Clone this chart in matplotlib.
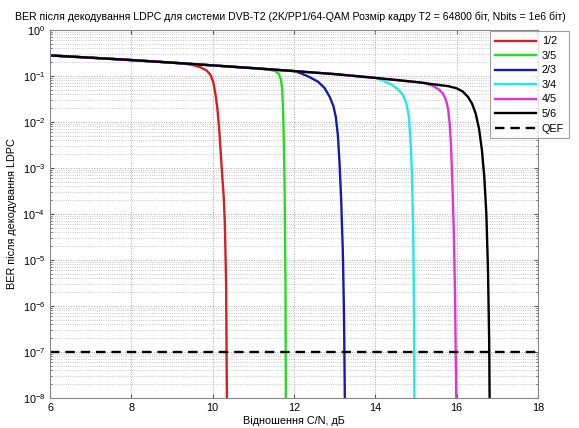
import numpy as np
import matplotlib
matplotlib.use("Agg")
import matplotlib.pyplot as plt
from matplotlib.ticker import FixedLocator, NullFormatter, LogFormatterSciNotation

plt.rcParams['font.family'] = ['Liberation Sans', 'DejaVu Sans']

# ---- data (C/N in dB, BER) ----
x_12 = [6, 7, 8, 9, 9.3, 9.5, 9.7, 9.85, 9.95, 10.02, 10.08, 10.12, 10.16, 10.19, 10.23, 10.27, 10.30, 10.33, 10.35]
y_12 = [0.28, 0.25, 0.222, 0.195, 0.186, 0.174, 0.155, 0.132, 0.105, 0.071, 0.035, 0.0178, 7.1e-3, 2.8e-3,
        7.9e-4, 2.5e-4, 6.3e-5, 3.2e-6, 1e-8]

x_35 = [6, 7, 8, 9, 10, 11, 11.4, 11.55, 11.63, 11.68, 11.71, 11.73, 11.75, 11.77, 11.79, 11.80]
y_35 = [0.28, 0.25, 0.222, 0.195, 0.17, 0.148, 0.138, 0.126, 0.11, 0.083, 0.05, 0.02, 4e-3, 3.2e-4, 3.2e-6, 1e-8]

x_23 = [6, 7, 8, 9, 10, 11, 12.0, 12.2, 12.4, 12.6, 12.75, 12.88, 12.97, 13.03, 13.08, 13.12, 13.16, 13.20,
        13.23, 13.25]
y_23 = [0.28, 0.25, 0.222, 0.195, 0.17, 0.148, 0.128, 0.112, 0.093, 0.074, 0.055, 0.035, 0.022, 0.0126, 5e-3,
        1.26e-3, 2e-4, 1.6e-5, 6.3e-7, 1e-8]

x_34 = [6, 7, 8, 9, 10, 11, 12, 13, 14.0, 14.2, 14.4, 14.55, 14.68, 14.76, 14.82, 14.86, 14.90, 14.93, 14.95, 14.96]
y_34 = [0.28, 0.25, 0.222, 0.195, 0.17, 0.148, 0.128, 0.11, 0.091, 0.079, 0.065, 0.052, 0.039, 0.026, 0.014,
        5e-3, 7.9e-4, 5e-5, 1e-6, 1e-8]

x_45 = [6, 7, 8, 9, 10, 11, 12, 13, 14, 15.2, 15.4, 15.55, 15.66, 15.74, 15.79, 15.83, 15.86, 15.89, 15.93,
        15.96, 15.99]
y_45 = [0.28, 0.25, 0.222, 0.195, 0.17, 0.148, 0.128, 0.11, 0.091, 0.071, 0.062, 0.052, 0.042, 0.030, 0.019,
        8.9e-3, 3.2e-3, 6.3e-4, 4e-5, 1.6e-6, 1e-8]

x_56 = [6, 7, 8, 9, 10, 11, 12, 13, 14, 15, 15.8, 16.0, 16.15, 16.28, 16.38, 16.47, 16.55, 16.62, 16.68, 16.73,
        16.77, 16.80, 16.81]
y_56 = [0.28, 0.25, 0.222, 0.195, 0.17, 0.148, 0.128, 0.11, 0.091, 0.074, 0.060, 0.054, 0.046, 0.035, 0.025,
        0.015, 7.1e-3, 2.5e-3, 6.3e-4, 1e-4, 6.3e-6, 1.6e-7, 1e-8]

qef_x = [6, 18]
qef_y = [1e-7, 1e-7]

labels = ['1/2', '3/5', '2/3', '3/4', '4/5', '5/6', 'QEF']
colors = ['#d42020', '#22dd22', '#1a1aa8', '#22e8e8', '#dd33dd', '#000000']

x_ticks = [6, 8, 10, 12, 14, 16, 18]
y_ticks = [1e-8, 1e-7, 1e-6, 1e-5, 1e-4, 1e-3, 1e-2, 1e-1, 1e0]

fig = plt.figure(figsize=(5.79, 4.28), dpi=100)
ax = fig.add_axes([50/579, 1-398/428, 488/579, 368/428])

series = [(x_12, y_12), (x_35, y_35), (x_23, y_23), (x_34, y_34), (x_45, y_45), (x_56, y_56)]
for (xs, ys), c, lab in zip(series, colors, labels):
    ax.semilogy(xs, ys, color=c, lw=1.7, label=lab, solid_joinstyle='round')
ax.semilogy(qef_x, qef_y, color='black', lw=1.7, ls=(0, (4, 2.5)), label=labels[-1])

ax.set_xlim(6, 18)
ax.set_ylim(1e-8, 1)
ax.xaxis.set_major_locator(FixedLocator(x_ticks))
ax.yaxis.set_major_locator(FixedLocator(y_ticks))
ax.yaxis.set_major_formatter(LogFormatterSciNotation())
minor_y = [m * t for t in y_ticks[:-1] for m in range(2, 10)]
ax.yaxis.set_minor_locator(FixedLocator(minor_y))
ax.yaxis.set_minor_formatter(NullFormatter())

ax.grid(True, which='major', color='#a8a8a8', ls=':', lw=0.7)
ax.grid(True, which='minor', axis='y', color='#b8b8b8', ls=':', lw=0.6)

ax.tick_params(which='both', direction='in', top=True, right=True, labelsize=7.8, colors='#555555', labelcolor='black')
ax.tick_params(which='major', length=3)
ax.tick_params(which='minor', length=1.5)
for s in ax.spines.values():
    s.set_color('#888888')
    s.set_linewidth(0.8)

fig.text(290/579, 1-17/428,
         'BER після декодування LDPC для системи DVB-T2 (2K/PP1/64-QAM Розмір кадру T2 = 64800 біт, Nbits = 1e6 біт)',
         fontsize=7.6, ha='center', va='center')
ax.set_xlabel('Відношення C/N, дБ', fontsize=7.8, labelpad=2)
ax.set_ylabel('BER після декодування LDPC', fontsize=7.8, labelpad=4)

leg = fig.legend(loc='upper left', bbox_to_anchor=(485/579, 1-26/428), fontsize=7.8,
                 frameon=True, fancybox=False, edgecolor='#888888', handlelength=3.8,
                 borderpad=0.45, labelspacing=0.42, handletextpad=0.5)
leg.get_frame().set_linewidth(0.8)

fig.savefig('out.png', dpi=100)
